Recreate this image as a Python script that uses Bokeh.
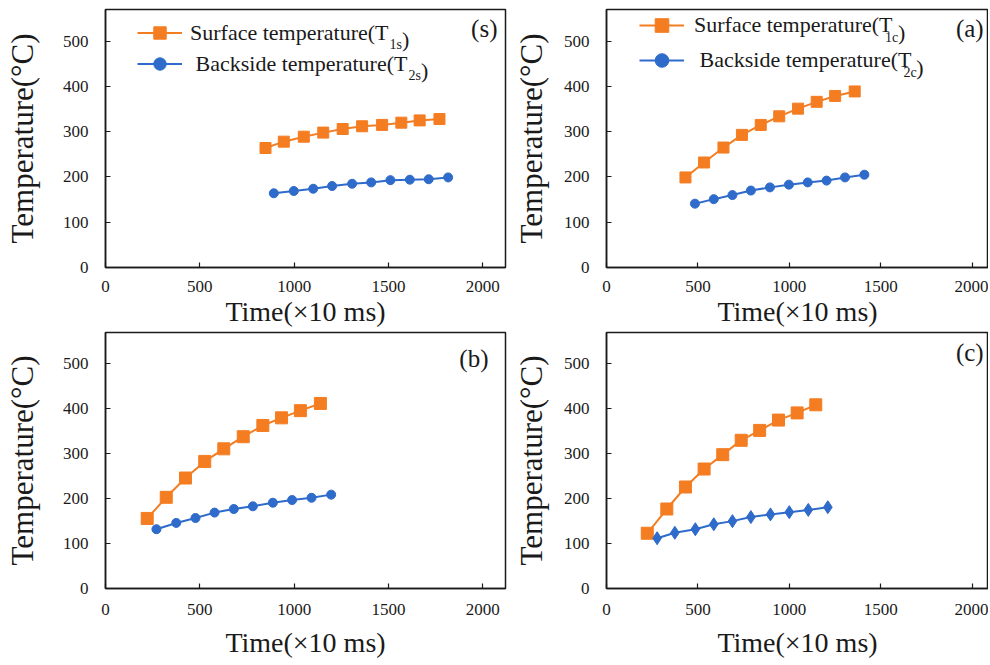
from bokeh.plotting import figure
from bokeh.models import Range1d, FixedTicker, Legend, LegendItem, Label
from bokeh.layouts import column, row
from bokeh.embed import file_html
from bokeh.resources import INLINE

FONT = "Liberation Serif"
ORANGE = "#F47D22"
BLUE = "#2E6BCB"
INK = "#1a1a1a"

x_ticks = [0, 500, 1000, 1500, 2000]
y_ticks = [0, 100, 200, 300, 400, 500]
x_title = "Time(×10 ms)"
y_title = "Temperature(°C)"
panel_tags = ["(s)", "(a)", "(b)", "(c)"]

# panel (s)
s_surf_x = [848, 945, 1051, 1154, 1257, 1360, 1466, 1568, 1665, 1770]
s_surf_y = [264, 278, 289, 298, 306, 312, 315, 320, 325, 328]
s_back_x = [892, 998, 1101, 1201, 1307, 1408, 1510, 1613, 1713, 1816]
s_back_y = [164, 169, 174, 180, 185, 188, 193, 194, 195, 199]

# panel (a)
a_surf_x = [432, 534, 640, 741, 844, 945, 1048, 1150, 1251, 1358]
a_surf_y = [199, 232, 265, 293, 315, 334, 351, 366, 379, 389]
a_back_x = [484, 587, 689, 790, 894, 998, 1101, 1204, 1305, 1411]
a_back_y = [141, 151, 160, 170, 177, 183, 188, 192, 199, 205]

# panel (b)
b_surf_x = [221, 322, 424, 526, 627, 730, 834, 933, 1033, 1139]
b_surf_y = [156, 203, 246, 283, 311, 338, 363, 380, 396, 412]
b_back_x = [270, 375, 477, 578, 680, 781, 887, 989, 1092, 1196]
b_back_y = [132, 146, 157, 169, 177, 183, 191, 197, 202, 209]

# panel (c)
c_surf_x = [223, 330, 432, 534, 636, 737, 838, 941, 1043, 1145]
c_surf_y = [123, 177, 226, 266, 298, 330, 352, 375, 391, 409]
c_back_x = [277, 374, 486, 587, 689, 790, 897, 1000, 1104, 1211]
c_back_y = [112, 124, 132, 143, 150, 159, 165, 170, 175, 181]

Y_MAX = 570


def make_panel(width, height, bl, br, bt, bb, xmax, surf, back, back_marker, back_size, sq_size,
               tag, tag_pos, xlab_standoff, xtitle_standoff, ytitle_standoff):
    p = figure(width=width, height=height, output_backend="svg", toolbar_location=None,
               x_range=Range1d(0, xmax), y_range=Range1d(0, Y_MAX),
               min_border_left=bl, min_border_right=br, min_border_top=bt, min_border_bottom=bb)
    fw = width - bl - br
    fh = height - bt - bb

    def dx(px):
        return px / fw * xmax

    def dy(py):
        return Y_MAX * (1 - py / fh)

    p.xgrid.visible = False
    p.ygrid.visible = False
    p.outline_line_color = INK
    p.outline_line_width = 1.5
    p.background_fill_color = "white"
    p.border_fill_color = "white"

    for ax in p.xaxis + p.yaxis:
        ax.axis_line_color = INK
        ax.axis_line_width = 1.5
        ax.major_tick_in = 5
        ax.major_tick_out = 0
        ax.major_tick_line_color = INK
        ax.major_tick_line_width = 1.2
        ax.minor_tick_line_color = None
        ax.major_label_text_font = FONT
        ax.major_label_text_font_style = "normal"
        ax.major_label_text_font_size = "17px"
        ax.major_label_text_color = INK
        ax.axis_label_text_font = FONT
        ax.axis_label_text_font_style = "normal"
        ax.axis_label_text_color = INK
    p.xaxis.ticker = FixedTicker(ticks=x_ticks)
    p.yaxis.ticker = FixedTicker(ticks=y_ticks)
    p.xaxis.axis_label = x_title
    p.yaxis.axis_label = y_title
    p.xaxis.axis_label_text_font_size = "28px"
    p.yaxis.axis_label_text_font_size = "31px"
    p.xaxis.major_label_standoff = xlab_standoff
    p.xaxis.axis_label_standoff = xtitle_standoff
    p.yaxis.major_label_standoff = 17
    p.yaxis.axis_label_standoff = ytitle_standoff

    sx, sy = surf
    bx, by = back
    l1 = p.line(sx, sy, line_color=ORANGE, line_width=2)
    m1 = p.scatter(sx, sy, marker="square", size=sq_size, fill_color=ORANGE, line_color=ORANGE)
    l2 = p.line(bx, by, line_color=BLUE, line_width=2)
    m2 = p.scatter(bx, by, marker=back_marker, size=back_size, fill_color=BLUE, line_color=BLUE)

    tx, ty = tag_pos
    p.add_layout(Label(x=dx(tx), y=dy(ty), text=tag, text_font=FONT, text_font_size="25px",
                       text_color=INK, text_align="right", text_baseline="middle"))
    return p, (l1, m1, l2, m2), dx, dy


def add_legend(p, rends, dx, dy, loc, gh, spacing, standoff, sub1, sub2, rows):
    l1, m1, l2, m2 = rends
    leg = Legend(items=[LegendItem(label="Surface temperature(T", renderers=[l1, m1]),
                        LegendItem(label=" Backside temperature(T", renderers=[l2, m2])],
                 location=loc, orientation="vertical", padding=0, margin=0, spacing=spacing,
                 glyph_width=45, glyph_height=gh, label_height=gh, label_standoff=standoff,
                 label_text_font=FONT, label_text_font_size="22px", label_text_color=INK,
                 background_fill_alpha=0, border_line_alpha=0)
    p.add_layout(leg, "center")
    for sub, (sub_x, sub_b, par_x, par_b) in zip((sub1, sub2), rows):
        p.add_layout(Label(x=dx(sub_x), y=dy(sub_b), text=sub, text_font=FONT,
                           text_font_size="14px", text_color=INK, text_baseline="alphabetic"))
        p.add_layout(Label(x=dx(par_x), y=dy(par_b), text=")", text_font=FONT,
                           text_font_size="22px", text_color=INK, text_baseline="alphabetic"))


p1, r1, dx1, dy1 = make_panel(510, 329, 105, 5, 9, 62, 2120, (s_surf_x, s_surf_y), (s_back_x, s_back_y),
                              "circle", 9, 11, panel_tags[0], (392, 19), 13, 1, 20)
add_legend(p1, r1, dx1, dy1, (32, 188), 31, 0, 8, "1s", "2s",
           [(284, 35, 296.5, 30), (303, 66, 315.5, 61)])

p2, r2, dx2, dy2 = make_panel(478, 329, 85, 0, 9, 62, 2090, (a_surf_x, a_surf_y), (a_back_x, a_back_y),
                              "circle", 9, 11, panel_tags[1], (388, 19), 13, 1, 12)
add_legend(p2, r2, dx2, dy2, (33, 190), 34, 1, 10, "1c", "2c",
           [(286.5, 28, 300, 23), (305.5, 63, 318.7, 58)])

p3, r3, dx3, dy3 = make_panel(510, 334, 105, 5, 3, 75, 2120, (b_surf_x, b_surf_y), (b_back_x, b_back_y),
                              "circle", 9, 12, panel_tags[2], (383, 26), 15, 9, 20)

p4, r4, dx4, dy4 = make_panel(478, 334, 85, 0, 3, 75, 2090, (c_surf_x, c_surf_y), (c_back_x, c_back_y),
                              "diamond", 13, 12, panel_tags[3], (388, 20), 15, 9, 12)

layout = column(row(p1, p2), row(p3, p4))
open("out.html", "w").write(file_html(layout, INLINE))
